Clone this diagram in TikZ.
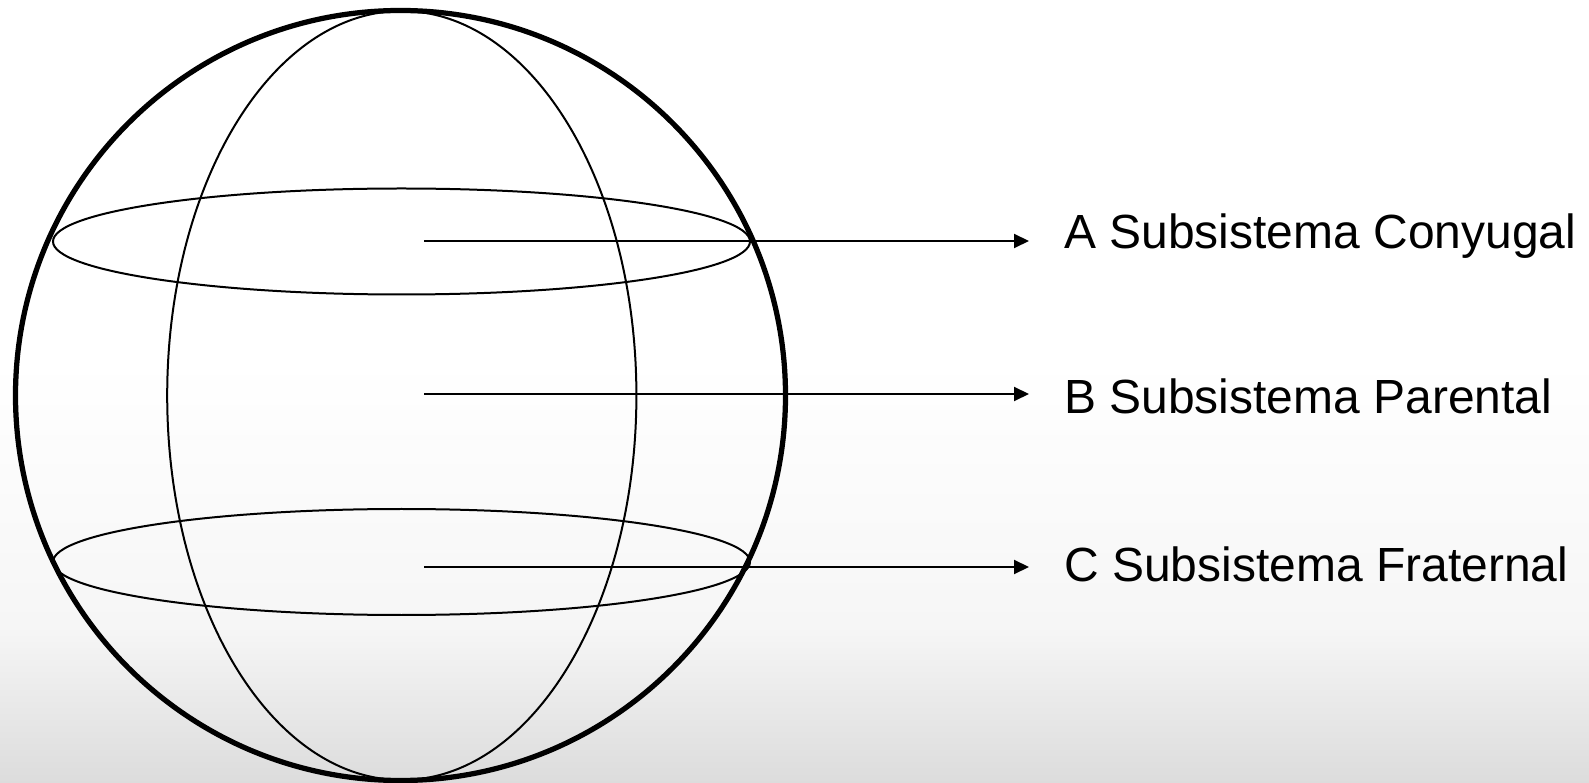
\documentclass[tikz,border=0pt]{standalone}
\usepackage{fontspec}
\setmainfont{Liberation Sans}
\usetikzlibrary{arrows.meta}

\definecolor{bgbot}{HTML}{DCDCDC}
\definecolor{bgmid}{HTML}{F6F6F6}
\pgfdeclareverticalshading{bggrad}{100bp}{color(0bp)=(bgbot); color(25bp)=(bgbot); color(35bp)=(bgmid); color(52bp)=(white); color(100bp)=(white)}

\begin{document}
\begin{tikzpicture}[x=0.02cm,y=-0.02cm]
  \tikzstyle{globe}=[line width=0.105cm]
  \tikzstyle{ring}=[line width=0.04cm]
  \tikzstyle{pointer}=[line width=0.04cm,-{Triangle[length=0.3cm,width=0.28cm]}]
  \tikzstyle{label}=[anchor=base west,inner sep=0pt,font=\fontsize{27.3}{33}\selectfont]
  % background
  \shade[shading=bggrad] (0,0) rectangle (1589,783);
  \useasboundingbox (0,0) rectangle (1589,783);
  % sphere
  \draw[ring] (401.5,241.5) ellipse [x radius=348.5, y radius=53];
  \draw[ring] (401.5,562) ellipse [x radius=348.5, y radius=53];
  \draw[ring] (401.8,395.5) ellipse [x radius=234.6, y radius=384.5];
  \draw[globe] (400.5,395.5) circle [radius=385];
  % labels
  \coordinate (sA) at (424,241);
  \coordinate (sB) at (424,394);
  \coordinate (sC) at (424,567);
  \coordinate (eA) at (1029,241);
  \coordinate (eB) at (1029,394);
  \coordinate (eC) at (1029,567);
  \node[label] (A) at (1064,249) {A Subsistema Conyugal};
  \node[label] (B) at (1064,414) {B Subsistema Parental};
  \node[label] (C) at (1064,582) {C Subsistema Fraternal};
  \draw[pointer] (sA) -- (eA);
  \draw[pointer] (sB) -- (eB);
  \draw[pointer] (sC) -- (eC);
\end{tikzpicture}
\end{document}
